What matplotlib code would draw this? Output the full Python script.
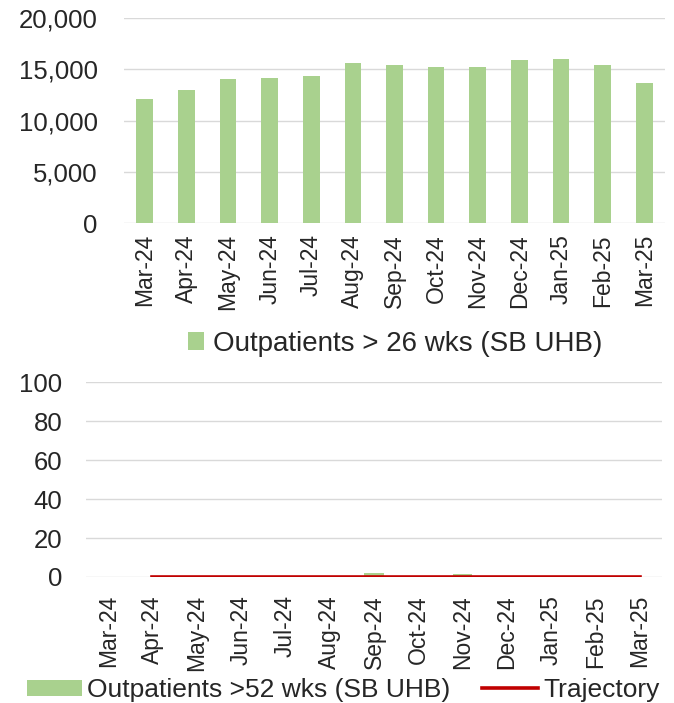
import matplotlib
matplotlib.use("Agg")
import matplotlib.pyplot as plt
import numpy as np

plt.rcParams['font.family'] = ['Liberation Sans', 'DejaVu Sans']

months = ["Mar-24", "Apr-24", "May-24", "Jun-24", "Jul-24", "Aug-24", "Sep-24",
          "Oct-24", "Nov-24", "Dec-24", "Jan-25", "Feb-25", "Mar-25"]
op26 = [12100, 13000, 14050, 14180, 14300, 15630, 15370, 15250, 15250, 15900, 16020, 15380, 13660]
op52 = [0, 0, 0, 0, 0, 0, 2, 0, 1.5, 0, 0, 0, 0]
trajectory = [np.nan, 0, 0, 0, 0, 0, 0, 0, 0, 0, 0, 0, 0]

GREEN = "#a9d18e"
RED = "#c00000"
GRID = "#d9d9d9"
TXT = "#262626"

W, H = 674, 703
fig = plt.figure(figsize=(W / 100, H / 100), dpi=100)

def px_axes(l, t, r, b):
    return fig.add_axes([l / W, 1 - b / H, (r - l) / W, (b - t) / H])

x = np.arange(len(months))

# ---- Top chart
ax1 = px_axes(124, 18, 665, 223)
ax1.bar(x, op26, width=0.4, color=GREEN, zorder=3, label="Outpatients > 26 wks (SB UHB)")
ax1.set_ylim(0, 20000)
ax1.set_xlim(-0.5, len(months) - 0.5)
ticks1 = [0, 5000, 10000, 15000, 20000]
ax1.set_yticks(ticks1)
ax1.set_yticklabels([f"{v:,}" for v in ticks1])
ax1.set_xticks(x)
ax1.set_xticklabels(months, rotation=90)
ax1.yaxis.grid(True, color=GRID, lw=1, zorder=0)
for s in ax1.spines.values():
    s.set_visible(False)
ax1.tick_params(axis='y', length=0, pad=19, labelsize=18.5, labelcolor=TXT)
ax1.tick_params(axis='x', length=0, pad=8, labelsize=16.5, labelcolor=TXT)
ax1.legend(loc='center', bbox_to_anchor=(395 / W, 1 - 344 / H), bbox_transform=fig.transFigure,
           frameon=False, fontsize=20, handlelength=0.6, handleheight=0.6,
           handletextpad=0.3, labelcolor=TXT)

# ---- Bottom chart
ax2 = px_axes(86, 382, 662, 577)
bars = ax2.bar(x, op52, width=0.43, color=GREEN, zorder=3, label="Outpatients >52 wks (SB UHB)")
line, = ax2.plot(x, trajectory, color=RED, lw=2.6, zorder=4, label="Trajectory")
ax2.set_ylim(0, 100)
ax2.set_xlim(-0.5, len(months) - 0.5)
ax2.set_yticks([0, 20, 40, 60, 80, 100])
ax2.set_xticks(x)
ax2.set_xticklabels(months, rotation=90)
ax2.yaxis.grid(True, color=GRID, lw=1, zorder=0)
for s in ax2.spines.values():
    s.set_visible(False)
ax2.tick_params(axis='y', length=0, pad=17, labelsize=18.5, labelcolor=TXT)
ax2.tick_params(axis='x', length=0, pad=13, labelsize=16.5, labelcolor=TXT)
ax2.legend([bars, line], ["Outpatients >52 wks (SB UHB)", "Trajectory"],
           loc='center', bbox_to_anchor=(343 / W, 1 - 690 / H), bbox_transform=fig.transFigure,
           frameon=False, fontsize=19, ncol=2, handlelength=2.1, handleheight=0.55,
           handletextpad=0.2, columnspacing=1.2, labelcolor=TXT)

fig.savefig("out.png", dpi=100)
